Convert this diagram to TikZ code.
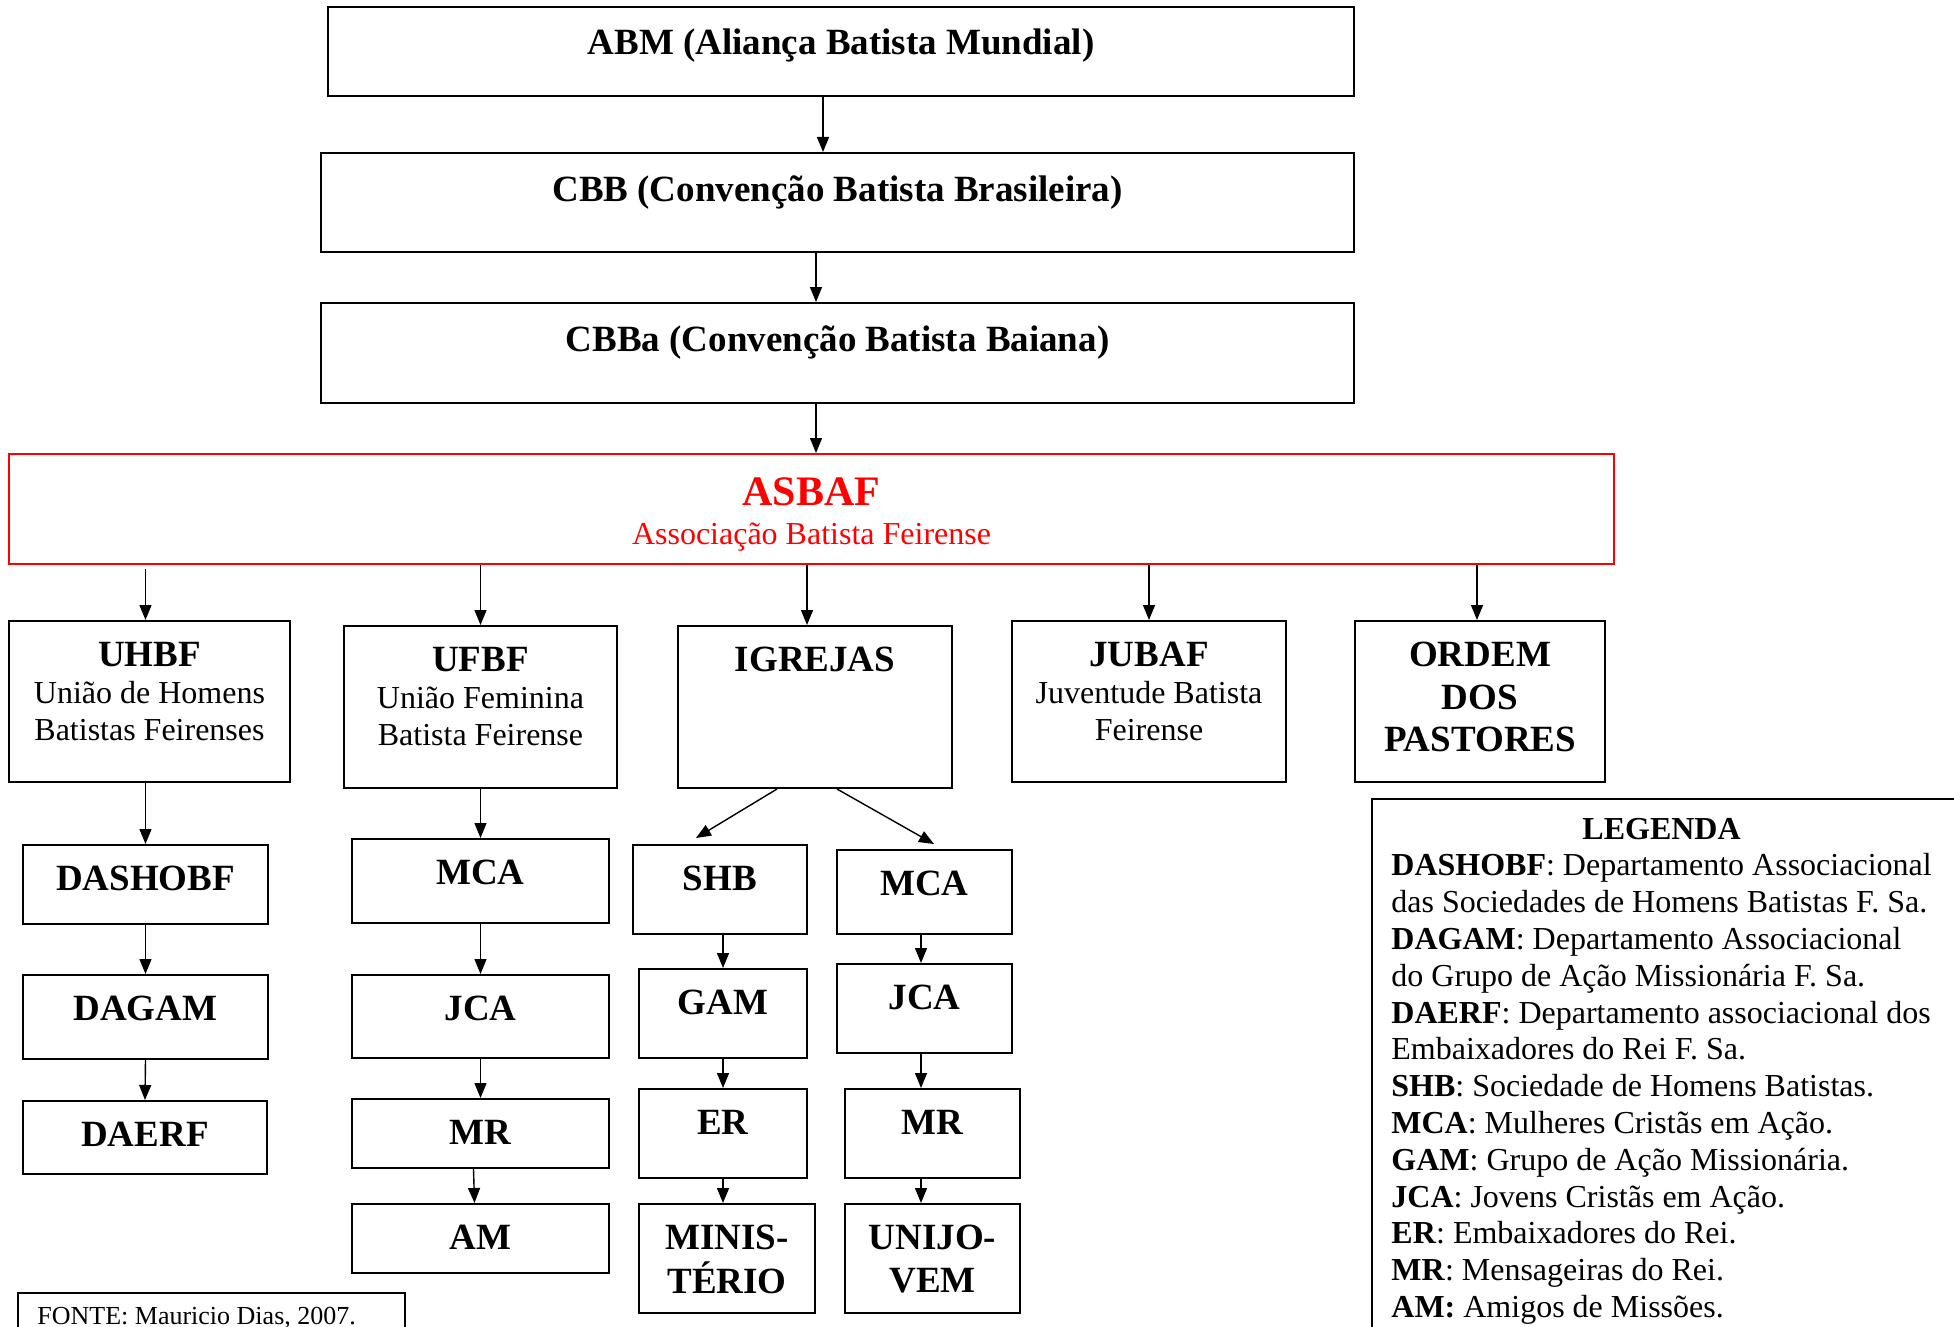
\documentclass[tikz,border=0pt]{standalone}
\usepackage{fontspec}
\setmainfont{Liberation Serif}
\usetikzlibrary{arrows.meta}

\newcommand{\pilha}[1]{\begin{tabular}[t]{@{}c@{}}#1\end{tabular}}
\newcommand{\corpo}{\fontsize{16}{18.4}\selectfont}
\newcommand{\tit}{\fontsize{18.5}{21.3}\selectfont\bfseries}

\tikzset{
  caixa/.style={draw, line width=1pt, inner sep=0pt},
  rotulo/.style={label={[anchor=base, inner sep=0pt, yshift=-23.2pt, font=\corpo]north:{#1}}},
  rotulotopo/.style={label={[anchor=base, inner sep=0pt, yshift=-24.5pt, font=\corpo]north:{#1}}},
  seta/.style={line width=0.7pt, -{Triangle[length=7.5pt,width=6pt]}},
}

\begin{document}
\begin{tikzpicture}[x=0.5pt, y=-0.5pt]
  \useasboundingbox (0,0) rectangle (1954,1327);

  % topo
  \node[caixa, minimum width=513pt, minimum height=44.5pt, rotulotopo={\tit ABM (Aliança Batista Mundial)}] (abm) at (841,51.5) {};
  \node[caixa, minimum width=516.5pt, minimum height=49.5pt, rotulotopo={\tit CBB (Convenção Batista Brasileira)}] (cbb) at (837.5,202.5) {};
  \node[caixa, minimum width=516.5pt, minimum height=50pt, rotulotopo={\tit CBBa (Convenção Batista Baiana)}] (cbba) at (837.5,353) {};
  \node[caixa, draw=red, minimum width=802.5pt, minimum height=55pt,
        label={[anchor=base, inner sep=0pt, yshift=-26pt, text=red, font=\corpo]north:{\fontsize{16}{19.5}\selectfont\pilha{{\fontsize{21}{24}\selectfont\bfseries ASBAF}\\Associação Batista Feirense}}}] (asbaf) at (811.5,509) {};

  % segundo nivel
  \node[caixa, minimum width=140.5pt, minimum height=80.5pt, rotulo={\pilha{{\tit UHBF}\\União de Homens\\Batistas Feirenses}}] (uhbf) at (149.5,701.5) {};
  \node[caixa, minimum width=136.5pt, minimum height=81pt, rotulo={\pilha{{\tit UFBF}\\União Feminina\\Batista Feirense}}] (ufbf) at (480.5,707) {};
  \node[caixa, minimum width=137pt, minimum height=81pt, rotulo={\tit IGREJAS}] (igrejas) at (815,707) {};
  \node[caixa, minimum width=137pt, minimum height=80.5pt, rotulo={\pilha{{\tit JUBAF}\\Juventude Batista\\Feirense}}] (jubaf) at (1149,701.5) {};
  \node[caixa, minimum width=125pt, minimum height=80.5pt, rotulo={\tit\pilha{ORDEM\\DOS\\PASTORES}}] (ordem) at (1480,701.5) {};

  % UHBF
  \node[caixa, minimum width=122.5pt, minimum height=39.5pt, rotulo={\tit DASHOBF}] (dashobf) at (145.5,884.5) {};
  \node[caixa, minimum width=122.5pt, minimum height=42pt, rotulo={\tit DAGAM}] (dagam) at (145.5,1017) {};
  \node[caixa, minimum width=122pt, minimum height=36.5pt, rotulo={\tit DAERF}] (daerf) at (145,1137.5) {};

  % UFBF
  \node[caixa, minimum width=128.5pt, minimum height=42pt, rotulo={\tit MCA}] (mcaf) at (480.5,881) {};
  \node[caixa, minimum width=128.5pt, minimum height=41.5pt, rotulo={\tit JCA}] (jcaf) at (480.5,1016.5) {};
  \node[caixa, minimum width=128.5pt, minimum height=34.5pt, rotulo={\tit MR}] (mrf) at (480.5,1133.5) {};
  \node[caixa, minimum width=128.5pt, minimum height=34.5pt, rotulo={\tit AM}] (amf) at (480.5,1238.5) {};

  % IGREJAS
  \node[caixa, minimum width=87pt, minimum height=44.5pt, rotulo={\tit SHB}] (shb) at (720,889.5) {};
  \node[caixa, minimum width=84pt, minimum height=44.5pt, rotulo={\tit GAM}] (gam) at (723,1013.5) {};
  \node[caixa, minimum width=84pt, minimum height=44.5pt, rotulo={\tit ER}] (er) at (723,1133.5) {};
  \node[caixa, minimum width=88pt, minimum height=54.5pt, rotulo={\tit\pilha{MINIS-\\TÉRIO}}] (ministerio) at (727,1258.5) {};
  \node[caixa, minimum width=87.5pt, minimum height=42pt, rotulo={\tit MCA}] (mcai) at (924.5,892) {};
  \node[caixa, minimum width=87.5pt, minimum height=44.5pt, rotulo={\tit JCA}] (jcai) at (924.5,1008.5) {};
  \node[caixa, minimum width=87.5pt, minimum height=44.5pt, rotulo={\tit MR}] (mri) at (932.5,1133.5) {};
  \node[caixa, minimum width=87.5pt, minimum height=54.5pt, rotulo={\tit\pilha{UNIJO-\\VEM}}] (unijovem) at (932.5,1258.5) {};

  % legenda e fonte
  \node[caixa, anchor=north west, minimum width=297pt, minimum height=271pt,
        label={[anchor=base west, inner sep=0pt, xshift=10pt, yshift=-20.5pt, font=\corpo]north west:{%
        \begin{tabular}[t]{@{}l@{}}
        \multicolumn{1}{@{}c@{}}{\textbf{LEGENDA}}\\
        \textbf{DASHOBF}: Departamento Associacional\\
        das Sociedades de Homens Batistas F. Sa.\\
        \textbf{DAGAM}: Departamento Associacional\\
        do Grupo de Ação Missionária F. Sa.\\
        \textbf{DAERF}: Departamento associacional dos\\
        Embaixadores do Rei F. Sa.\\
        \textbf{SHB}: Sociedade de Homens Batistas.\\
        \textbf{MCA}: Mulheres Cristãs em Ação.\\
        \textbf{GAM}: Grupo de Ação Missionária.\\
        \textbf{JCA}: Jovens Cristãs em Ação.\\
        \textbf{ER}: Embaixadores do Rei.\\
        \textbf{MR}: Mensageiras do Rei.\\
        \textbf{AM:} Amigos de Missões.
        \end{tabular}}}] (legenda) at (1371,798) {};
  \node[caixa, anchor=north west, minimum width=193.5pt, minimum height=30pt,
        label={[anchor=base west, inner sep=0pt, xshift=10pt, yshift=-16pt, font=\fontsize{13}{15}\selectfont]north west:{FONTE: Mauricio Dias, 2007.}}] (fonte) at (17,1292) {};

  % setas
  \draw[seta] ([xshift=-9pt]abm.south) -- ([xshift=-9pt]abm.south |- cbb.north);
  \draw[seta] ([xshift=-10.75pt]cbb.south) -- ([xshift=-10.75pt]cbb.south |- cbba.north);
  \draw[seta] ([xshift=-10.75pt]cbba.south) -- ([xshift=-10.75pt]cbba.south |- asbaf.north);
  \draw[seta] ([yshift=-2pt]asbaf.south -| dashobf.north) -- (dashobf.north |- uhbf.north);
  \draw[seta] (asbaf.south -| ufbf.north) -- (ufbf.north);
  \draw[seta] ([xshift=-4pt]asbaf.south -| igrejas.north) -- ([xshift=-4pt]igrejas.north);
  \draw[seta] (asbaf.south -| jubaf.north) -- (jubaf.north);
  \draw[seta] ([xshift=-1.5pt]asbaf.south -| ordem.north) -- ([xshift=-1.5pt]ordem.north);

  \draw[seta] (dashobf.north |- uhbf.south) -- (dashobf.north);
  \draw[seta] (dashobf.south) -- (dagam.north);
  \draw[seta] (dagam.south) -- (daerf.north);

  \draw[seta] (ufbf.south) -- (mcaf.north);
  \draw[seta] (mcaf.south) -- (jcaf.north);
  \draw[seta] (jcaf.south) -- (mrf.north);
  \draw[seta] ([xshift=-3.5pt]mrf.south) -- ([xshift=-3pt]amf.north);

  \draw[seta] ([xshift=-19pt]igrejas.south) -- ([xshift=-12pt,yshift=3pt]shb.north);
  \draw[seta] ([xshift=11pt]igrejas.south) -- ([xshift=4.75pt,yshift=2.5pt]mcai.north);
  \draw[seta] (gam.north |- shb.south) -- (gam.north);
  \draw[seta] (gam.south) -- (er.north);
  \draw[seta] (er.south) -- (er.south |- ministerio.north);
  \draw[seta] ([xshift=-1.75pt]mcai.south) -- ([xshift=-1.75pt]jcai.north);
  \draw[seta] ([xshift=-1.75pt]jcai.south) -- ([xshift=-1.75pt]jcai.south |- mri.north);
  \draw[seta] ([xshift=-5.75pt]mri.south) -- ([xshift=-5.75pt]unijovem.north);
\end{tikzpicture}
\end{document}
